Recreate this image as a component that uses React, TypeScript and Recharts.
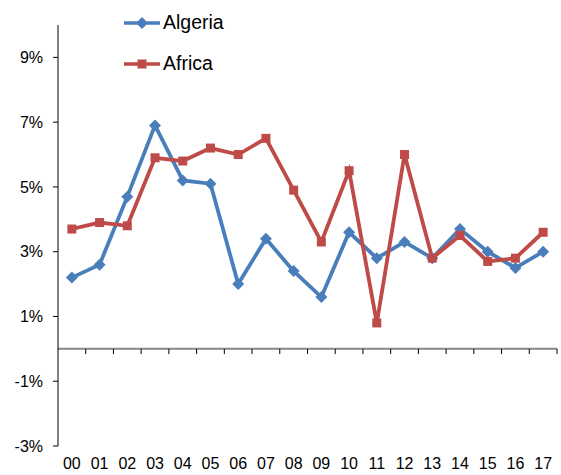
import React from 'react'
import { LineChart, Line, XAxis, YAxis, ReferenceLine } from 'recharts'

const years = ['00', '01', '02', '03', '04', '05', '06', '07', '08', '09', '10', '11', '12', '13', '14', '15', '16', '17']
const algeria = [2.2, 2.6, 4.7, 6.9, 5.2, 5.1, 2.0, 3.4, 2.4, 1.6, 3.6, 2.8, 3.3, 2.8, 3.7, 3.0, 2.5, 3.0]
const africa = [3.7, 3.9, 3.8, 5.9, 5.8, 6.2, 6.0, 6.5, 4.9, 3.3, 5.5, 0.8, 6.0, 2.8, 3.5, 2.7, 2.8, 3.6]
const yTicks = [-3, -1, 1, 3, 5, 7, 9]

const data = years.map((y, i) => ({ idx: i, year: y, algeria: algeria[i], africa: africa[i] }))
const xTicks = years.map((_, i) => i)
const boundaries = years.map((_, i) => i + 0.5)

const series = [
  { key: 'algeria', name: 'Algeria', color: '#4A7EBB', shape: 'diamond' },
  { key: 'africa', name: 'Africa', color: '#BE4B48', shape: 'square' },
]

const font = 'Arial, "Liberation Sans", sans-serif'

function Marker({ cx, cy, color, shape }: any) {
  if (cx == null || cy == null) return null
  if (shape === 'diamond') {
    const r = 6
    return <polygon points={`${cx},${cy - r} ${cx + r},${cy} ${cx},${cy + r} ${cx - r},${cy}`} fill={color} />
  }
  const s = 9
  return <rect x={cx - s / 2} y={cy - s / 2} width={s} height={s} fill={color} />
}

function LegendBox() {
  return (
    <div style={{ position: 'absolute', left: 123, top: 2, fontFamily: font, fontSize: 19.5, color: '#000' }}>
      {series.map((s) => (
        <div key={s.key} style={{ display: 'flex', alignItems: 'center', height: 41 }}>
          <svg width={38} height={16} style={{ marginRight: 2 }}>
            <line x1={1} y1={8} x2={37} y2={8} stroke={s.color} strokeWidth={3.5} />
            <Marker cx={19} cy={8} color={s.color} shape={s.shape} />
          </svg>
          <span>{s.name}</span>
        </div>
      ))}
    </div>
  )
}

export default function App() {
  return (
    <div style={{ position: 'absolute', left: 0, top: 0, width: 561, height: 475, background: '#fff' }}>
      <LineChart width={561} height={475} data={data} margin={{ top: 25, right: 4, bottom: 0, left: 0 }}>
        <XAxis
          type="number"
          dataKey="idx"
          domain={[-0.5, 17.5]}
          ticks={xTicks}
          interval={0}
          tickFormatter={(v: number) => years[v]}
          axisLine={false}
          tickLine={false}
          tickMargin={6}
          height={29}
          tick={{ fill: '#000', fontSize: 16, fontFamily: font }}
        />
        <YAxis
          domain={[-3, 10]}
          ticks={yTicks}
          interval={0}
          tickFormatter={(v: number) => `${v}%`}
          width={58}
          tickSize={5}
          tickMargin={10}
          axisLine={{ stroke: '#000', strokeWidth: 1 }}
          tickLine={{ stroke: '#000', strokeWidth: 1 }}
          tick={{ fill: '#000', fontSize: 16, fontFamily: font }}
        />
        <ReferenceLine y={0} stroke="#868686" strokeWidth={2} />
        {boundaries.map((b) => (
          <ReferenceLine
            key={b}
            segment={[{ x: b, y: 0 }, { x: b, y: -0.16 }]}
            stroke="#000"
            strokeWidth={1}
          />
        ))}
        {series.map((s) => (
          <Line
            key={s.key}
            type="linear"
            dataKey={s.key}
            name={s.name}
            stroke={s.color}
            strokeWidth={3.8}
            dot={(p: any) => <Marker key={p.index} cx={p.cx} cy={p.cy} color={s.color} shape={s.shape} />}
            activeDot={false}
            isAnimationActive={false}
          />
        ))}
      </LineChart>
      <LegendBox />
    </div>
  )
}
